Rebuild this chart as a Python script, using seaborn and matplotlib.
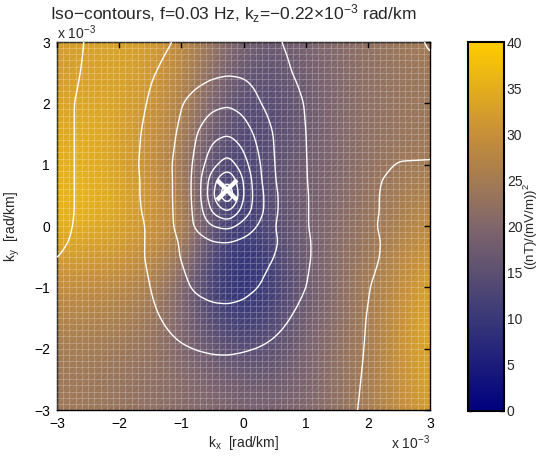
import numpy as np
import matplotlib
matplotlib.use("Agg")
import matplotlib.pyplot as plt
from matplotlib.ticker import MultipleLocator
from matplotlib.patches import Rectangle
import seaborn as sns

# ---------------- data (units of 1e-3 rad/km) ----------------
# background power field, coarse nodes
bg_kx = [-3, -2.5, -2, -1.5, -1, -0.5, 0, 0.5, 1, 1.5, 2, 2.5, 3]
bg_ky = [3, 2.5, 2, 1.5, 1, 0.5, 0, -0.5, -1, -1.5, -2, -2.5, -3]
bg_power = [
    [32, 33, 33, 32, 29, 23, 18, 17, 19, 21, 22, 24, 25],
    [32, 33, 33, 32, 28, 21, 16, 15, 18, 20, 22, 23, 24],
    [33, 34, 33, 31, 27, 19, 14, 14, 17, 20, 22, 23, 24],
    [34, 35, 33, 30, 26, 17, 13, 14, 17, 20, 22, 23, 24],
    [35, 35, 33, 30, 25, 14, 12, 15, 18, 20, 22, 24, 25],
    [36, 36, 34, 31, 27, 13, 11, 15, 18, 20, 23, 25, 27],
    [35, 35, 33, 31, 28, 15, 10, 14, 18, 21, 23, 26, 29],
    [32, 32, 31, 29, 24, 12, 8, 12, 18, 21, 24, 28, 31],
    [29, 29, 28, 26, 20, 11, 8, 11, 17, 21, 25, 29, 33],
    [27, 27, 26, 24, 20, 13, 10, 13, 18, 21, 25, 30, 34],
    [25, 25, 24, 23, 20, 16, 14, 15, 19, 22, 25, 30, 34],
    [24, 24, 23, 22, 21, 19, 17, 17, 19, 22, 25, 30, 33],
    [24, 24, 23, 22, 21, 20, 19, 19, 20, 22, 25, 29, 32],
]

# iso-contour field (contour index), non-uniform nodes
iso_kx = [-3, -2.5, -2, -1.5, -1, -0.75, -0.5, -0.25, 0, 0.25, 0.5, 1, 1.5, 2, 2.5, 3]
iso_ky = [3, 2.5, 2, 1.5, 1, 0.75, 0.5, 0.25, 0, -0.25, -0.5, -1, -1.5, -2, -2.5, -3]
iso_field = [
    [0.80, 1.03, 1.30, 1.75, 2.10, 2.25, 2.35, 2.40, 2.35, 2.25, 2.07, 1.75, 1.50, 1.30, 1.12, 0.97],
    [0.85, 1.05, 1.35, 1.92, 2.35, 2.60, 2.80, 2.90, 2.85, 2.65, 2.25, 1.80, 1.50, 1.30, 1.15, 1.05],
    [0.90, 1.08, 1.40, 2.08, 2.95, 3.40, 3.75, 3.90, 3.65, 3.05, 2.60, 1.95, 1.55, 1.33, 1.20, 1.10],
    [0.90, 1.08, 1.45, 2.24, 3.15, 4.00, 4.70, 4.95, 4.50, 3.70, 2.90, 1.98, 1.60, 1.35, 1.22, 1.15],
    [0.90, 1.08, 1.50, 2.30, 3.30, 4.30, 5.70, 6.50, 5.40, 4.10, 2.95, 2.00, 1.60, 1.15, 0.97, 0.97],
    [0.90, 1.08, 1.50, 2.25, 3.30, 4.40, 6.60, 8.10, 5.90, 4.20, 3.00, 2.02, 1.45, 1.08, 0.90, 0.85],
    [0.90, 1.08, 1.50, 2.25, 3.30, 4.40, 6.80, 9.30, 5.90, 4.40, 3.10, 2.05, 1.45, 1.07, 0.88, 0.82],
    [0.90, 1.08, 1.50, 2.20, 3.30, 4.30, 6.20, 7.20, 5.60, 4.40, 3.10, 2.05, 1.45, 1.07, 0.88, 0.82],
    [0.91, 1.09, 1.50, 2.10, 3.30, 4.20, 5.00, 5.30, 4.60, 3.90, 3.00, 2.05, 1.45, 1.05, 0.88, 0.82],
    [0.94, 1.10, 1.52, 2.10, 3.10, 3.60, 3.95, 4.00, 3.80, 3.50, 3.12, 2.10, 1.50, 1.07, 0.90, 0.83],
    [0.99, 1.15, 1.55, 2.10, 3.05, 3.40, 3.60, 3.60, 3.50, 3.30, 3.00, 2.10, 1.50, 1.06, 0.90, 0.83],
    [1.10, 1.30, 1.58, 1.98, 2.80, 3.15, 3.30, 3.30, 3.20, 3.00, 2.65, 2.00, 1.50, 1.00, 0.90, 0.83],
    [1.12, 1.30, 1.55, 1.85, 2.30, 2.55, 2.70, 2.75, 2.70, 2.50, 2.25, 1.75, 1.35, 0.97, 0.88, 0.82],
    [1.12, 1.30, 1.50, 1.70, 1.93, 2.01, 2.05, 2.06, 2.03, 1.97, 1.85, 1.55, 1.25, 0.96, 0.88, 0.82],
    [1.10, 1.25, 1.40, 1.55, 1.70, 1.75, 1.78, 1.78, 1.75, 1.70, 1.60, 1.40, 1.17, 0.95, 0.87, 0.82],
    [1.08, 1.20, 1.32, 1.42, 1.52, 1.55, 1.57, 1.57, 1.55, 1.50, 1.43, 1.30, 1.12, 0.94, 0.86, 0.80],
]
iso_levels = [1, 2, 3, 4, 5, 6, 7, 8]

peak_kx = [-0.27]
peak_ky = [0.59]

cbar_ticks = [0, 5, 10, 15, 20, 25, 30, 35, 40]
axis_ticks = [-3, -2, -1, 0, 1, 2, 3]
axis_ticklabels = ["\u22123", "\u22122", "\u22121", "0", "1", "2", "3"]

# ---------------- style ----------------
sns.set_theme(style="white")
plt.rcParams["font.family"] = ["Liberation Sans", "DejaVu Sans"]
plt.rcParams["mathtext.fontset"] = "custom"
plt.rcParams["mathtext.rm"] = "Liberation Sans"
plt.rcParams["mathtext.it"] = "Liberation Sans"
plt.rcParams["hatch.linewidth"] = 0.6

cmap = sns.blend_palette(
    [(0.0, 0.0, 0.50), (0.22, 0.22, 0.47), (0.50, 0.40, 0.42),
     (0.78, 0.56, 0.22), (1.0, 0.80, 0.0)], as_cmap=True)

fig = plt.figure(figsize=(5.44, 4.59), dpi=100)
ax = fig.add_axes([57 / 544, 1 - 410 / 459, 373 / 544, 368 / 459])
cax = fig.add_axes([468 / 544, 1 - 411 / 459, 36 / 544, 369 / 459])

# background
bg = np.array(bg_power, dtype=float)[::-1]
bx = np.array(bg_kx, float)
by = np.array(bg_ky, float)[::-1]
hx = (bx[1] - bx[0]) / 2
im = ax.imshow(bg, origin="lower", cmap=cmap, vmin=0, vmax=40,
               extent=[bx[0] - hx, bx[-1] + hx, by[0] - hx, by[-1] + hx],
               interpolation="bicubic", aspect="auto", zorder=0)

# faceted-mesh texture
ax.add_patch(Rectangle((0, 0), 1, 1, transform=ax.transAxes, facecolor="none",
                       edgecolor=(1, 1, 1, 0.10), hatch="//////", linewidth=0, zorder=1))

# iso-contours: resample nodes to a fine grid for smooth lines
Z = np.array(iso_field, float)[::-1]
zx = np.array(iso_kx, float)
zy = np.array(iso_ky, float)[::-1]
fx = np.linspace(-3, 3, 301)
fy = np.linspace(-3, 3, 301)
tmp = np.array([np.interp(fx, zx, row) for row in Z])
Zf = np.array([np.interp(fy, zy, col) for col in tmp.T]).T
sig = 3.2
k = np.arange(-10, 11)
ker = np.exp(-0.5 * (k / sig) ** 2)
ker /= ker.sum()
pad = np.pad(Zf, 10, mode="edge")
pad = np.apply_along_axis(lambda r: np.convolve(r, ker, mode="same"), 1, pad)
pad = np.apply_along_axis(lambda c: np.convolve(c, ker, mode="same"), 0, pad)
Zs = pad[10:-10, 10:-10]
ax.contour(fx, fy, Zs, levels=iso_levels, colors="white", linewidths=1.0, zorder=3)

ax.plot(peak_kx, peak_ky, marker="x", color="white", markersize=14,
        markeredgewidth=3.2, linestyle="none", zorder=4)

ax.set_xlim(-3, 3)
ax.set_ylim(-3, 3)
ax.set_xticks(axis_ticks)
ax.set_yticks(axis_ticks)
ax.set_xticklabels(axis_ticklabels)
ax.set_yticklabels(axis_ticklabels)
ax.xaxis.set_minor_locator(MultipleLocator(0.1))
ax.yaxis.set_minor_locator(MultipleLocator(0.1))
ax.grid(which="both", color="white", alpha=0.25, linewidth=0.6)
ax.set_axisbelow(False)
ax.tick_params(which="major", direction="in", length=4, width=1, top=True, right=True,
               labelsize=10, pad=5, colors="black")
ax.tick_params(which="minor", length=0)
for s in ax.spines.values():
    s.set_color("black")
    s.set_linewidth(1.0)

ax.text(0.472, 1.0 + 22 / 368, "Iso\u2212contours, f=0.03 Hz, k$_z$=\u22120.22\u00d710$^{\u22123}$ rad/km",
        transform=ax.transAxes, ha="center", va="baseline", fontsize=12.5)
ax.set_xlabel("k$_x$  [rad/km]", fontsize=10, labelpad=2)
ax.set_ylabel("k$_y$  [rad/km]", fontsize=10, labelpad=9)
ax.text(0.0, 0.999, "x 10$^{\u22123}$", transform=ax.transAxes, ha="left", va="bottom", fontsize=10)
ax.text(1.0, -39 / 368, "x 10$^{\u22123}$", transform=ax.transAxes, ha="right", va="baseline", fontsize=10)

cb = fig.colorbar(im, cax=cax, ticks=cbar_ticks)
cb.outline.set_linewidth(1.5)
cb.outline.set_edgecolor("black")
cax.tick_params(direction="in", length=3, width=1, left=True, right=True, labelsize=10, pad=2)
cb.set_label("((nT)/(mV/m))$^2$", fontsize=9.5, labelpad=-0.5)

fig.savefig("out.png", dpi=100)
